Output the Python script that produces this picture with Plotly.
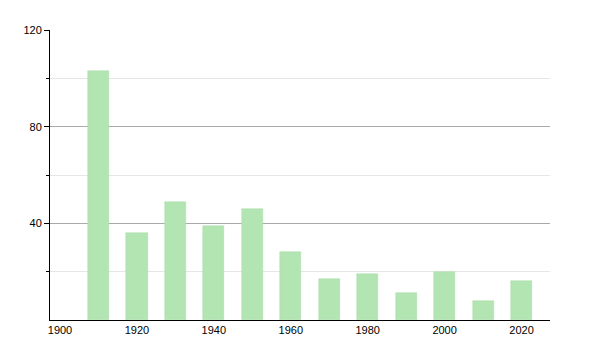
import plotly.graph_objects as go

years = [1910, 1920, 1930, 1940, 1950, 1960, 1970, 1980, 1990, 2000, 2010, 2020]
values = [103, 36, 49, 39, 46, 28, 17, 19, 11, 20, 8, 16]
x_ticks = [1900, 1920, 1940, 1960, 1980, 2000, 2020]
y_ticks = [40, 80, 120]

fig = go.Figure(go.Bar(
    x=years, y=values, width=5.5,
    marker=dict(color="#b3e5b3", line=dict(width=0.5, color="#a8dca8")),
))

fig.update_layout(
    width=600, height=350,
    margin=dict(l=50, r=50, t=30, b=30),
    plot_bgcolor="white", paper_bgcolor="white",
    font=dict(family="Liberation Sans, Arial, sans-serif", size=11, color="black"),
    showlegend=False,
    bargap=0,
)
fig.update_xaxes(
    range=[1897.4, 2027.4], tickvals=x_ticks, ticktext=[str(t) for t in x_ticks],
    showgrid=False, zeroline=False, showline=True, linecolor="black", linewidth=1,
    ticks="", fixedrange=True,
)
fig.update_yaxes(
    range=[0, 120], tickvals=y_ticks, showgrid=True, gridcolor="#aaaaaa", gridwidth=1,
    zeroline=False, showline=True, linecolor="black", linewidth=1,
    ticks="outside", ticklen=5, tickcolor="black",
    minor=dict(tickvals=[20, 60, 100], ticks="outside", ticklen=3, tickcolor="black",
               showgrid=True, gridcolor="#e6e6e6", gridwidth=1),
)

fig.write_html("out.html")
